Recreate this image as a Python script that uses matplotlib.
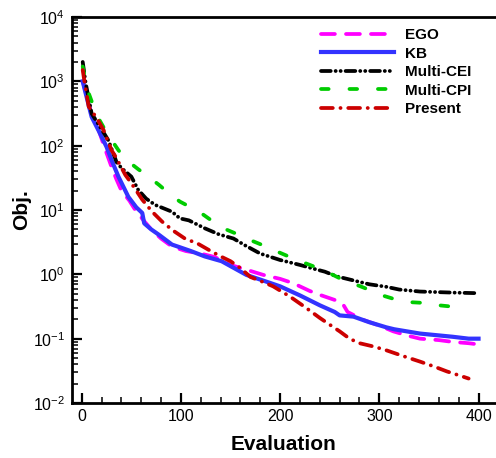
import matplotlib
matplotlib.use("Agg")
import matplotlib.pyplot as plt
from matplotlib.ticker import FixedLocator, MultipleLocator, NullFormatter

plt.rcParams['font.family'] = ['Liberation Sans', 'DejaVu Sans']
plt.rcParams['mathtext.fontset'] = 'custom'
plt.rcParams['mathtext.rm'] = 'Liberation Sans'
plt.rcParams['mathtext.it'] = 'Liberation Sans'
plt.rcParams['lines.scale_dashes'] = False

# data
x_kb = [1, 4, 10, 18, 25, 30, 37, 47, 55, 61, 63, 70, 78, 91, 100, 110, 124, 141, 166, 185,
        200, 220, 240, 255, 260, 274, 290, 307, 315, 341, 374, 390, 400]
y_kb = [1000, 650, 280, 160, 96, 60, 33, 16, 11, 9, 6.2, 5.0, 4.1, 2.9, 2.6, 2.3, 1.9, 1.6, 0.98, 0.78,
        0.65, 0.47, 0.33, 0.26, 0.23, 0.22, 0.18, 0.15, 0.14, 0.12, 0.107, 0.10, 0.10]

x_ego = [1, 5, 10, 17, 24, 30, 35, 40, 48, 54, 62, 70, 80, 91, 105, 120, 134, 150, 160, 183,
         200, 213, 230, 240, 255, 260, 264, 268, 284, 300, 314, 330, 341, 360, 374, 390, 401]
y_ego = [1000, 600, 300, 175, 85, 47, 30, 20, 14, 10, 7, 5, 3.6, 2.7, 2.3, 2.1, 1.86, 1.4, 1.26, 0.98,
         0.85, 0.73, 0.55, 0.48, 0.40, 0.37, 0.33, 0.26, 0.195, 0.16, 0.13, 0.11, 0.10, 0.095, 0.089, 0.085, 0.081]

x_cei = [1, 4, 10, 20, 27, 35, 40, 50, 57, 65, 74, 91, 99, 108, 124, 138, 153, 165, 180, 200,
         220, 233, 245, 257, 273, 290, 307, 320, 341, 374, 398]
y_cei = [2000, 940, 316, 180, 120, 56, 45, 33, 20.5, 15, 12, 9.4, 7.4, 6.9, 5.2, 4.2, 3.6, 2.8, 2.1, 1.67,
         1.4, 1.23, 1.1, 0.93, 0.81, 0.70, 0.64, 0.58, 0.54, 0.52, 0.51]

x_cpi = [1, 5, 15, 25, 37, 45, 57, 65, 78, 90, 99, 110, 121, 133, 144, 157, 170, 181, 193, 205,
         217, 230, 243, 255, 267, 280, 294, 305, 318, 330, 344, 360, 378]
y_cpi = [1700, 800, 300, 160, 85, 60, 43, 35, 24.5, 17, 13.5, 11, 8.8, 6.5, 5.1, 4.2, 3.4, 2.9, 2.4, 2.0,
         1.67, 1.4, 1.17, 0.95, 0.77, 0.66, 0.54, 0.46, 0.40, 0.37, 0.36, 0.33, 0.31]

x_pre = [1, 2, 7, 15, 22, 30, 34, 44, 49, 55, 61, 71, 81, 92, 104, 117, 128, 140, 150, 160,
         170, 181, 193, 210, 225, 240, 250, 260, 270, 280, 295, 307, 325, 341, 355, 368, 380, 390]
y_pre = [1500, 1180, 405, 270, 175, 85, 68, 35, 27.5, 20, 14.5, 9.4, 6.6, 4.8, 3.6, 3.0, 2.4, 1.9, 1.6, 1.25,
         0.91, 0.78, 0.65, 0.45, 0.31, 0.21, 0.165, 0.13, 0.10, 0.085, 0.075, 0.066, 0.053, 0.044, 0.037, 0.031, 0.027, 0.024]

y_major = [1e-2, 1e-1, 1e0, 1e1, 1e2, 1e3, 1e4]
y_labels = ['$10^{-2}$', '$10^{-1}$', '$10^{0}$', '$10^{1}$', '$10^{2}$', '$10^{3}$', '$10^{4}$']

fig = plt.figure(figsize=(4.96, 4.58), dpi=100)
ax = fig.add_axes([72/496, 1 - 403/458, 1 - 72/496, (403 - 17)/458])

lw = 2.7
ax.plot(x_ego, y_ego, color='#ff00ff', lw=lw, ls=(0, (10, 8)), dash_capstyle='round', label='EGO')
ax.plot(x_kb, y_kb, color='#3333ff', lw=3.0, ls='-', label='KB')
ax.plot(x_cei, y_cei, color='black', lw=lw, ls=(0, (7, 3.5, 0.1, 3.5, 0.1, 3.5)), dash_capstyle='round', label='Multi-CEI')
ax.plot(x_cpi, y_cpi, color='#00cc00', lw=lw, ls=(0, (5.5, 15)), dash_capstyle='round', label='Multi-CPI')
ax.plot(x_pre, y_pre, color='#cc0000', lw=lw, ls=(0, (8.5, 5.5, 0.1, 5.5)), dash_capstyle='round', label='Present')

ax.set_yscale('log')
ax.set_ylim(1e-2, 1e4)
ax.set_xlim(-9.8, 417.6)
ax.xaxis.set_major_locator(MultipleLocator(100))
ax.xaxis.set_minor_locator(MultipleLocator(20))
minors = [m * 10.0**e for e in range(-2, 4) for m in range(2, 10)]
ax.yaxis.set_major_locator(FixedLocator(y_major))
ax.yaxis.set_minor_locator(FixedLocator(minors))
ax.set_yticklabels(y_labels)
ax.yaxis.set_minor_formatter(NullFormatter())

for s in ax.spines.values():
    s.set_linewidth(2)
ax.spines['right'].set_visible(False)
ax.tick_params(which='major', direction='in', length=7.5, width=1.6, labelsize=11.5, pad=5)
ax.tick_params(which='minor', direction='in', length=4.5, width=1.1)
ax.tick_params(axis='x', which='major', pad=4)
ax.tick_params(top=False, right=False, which='both')

ax.set_xlabel('Evaluation', fontsize=15, fontweight='bold', labelpad=8)
ax.set_ylabel('Obj.', fontsize=15, fontweight='bold', labelpad=1)

leg = ax.legend(loc='upper left', bbox_to_anchor=(321/496, 1 - 28/458), bbox_transform=fig.transFigure,
                frameon=False, borderpad=0, borderaxespad=0, handlelength=4.8, handletextpad=0.7,
                labelspacing=0.3, prop={'size': 11, 'weight': 'bold'})

fig.savefig('out.png', dpi=100)
